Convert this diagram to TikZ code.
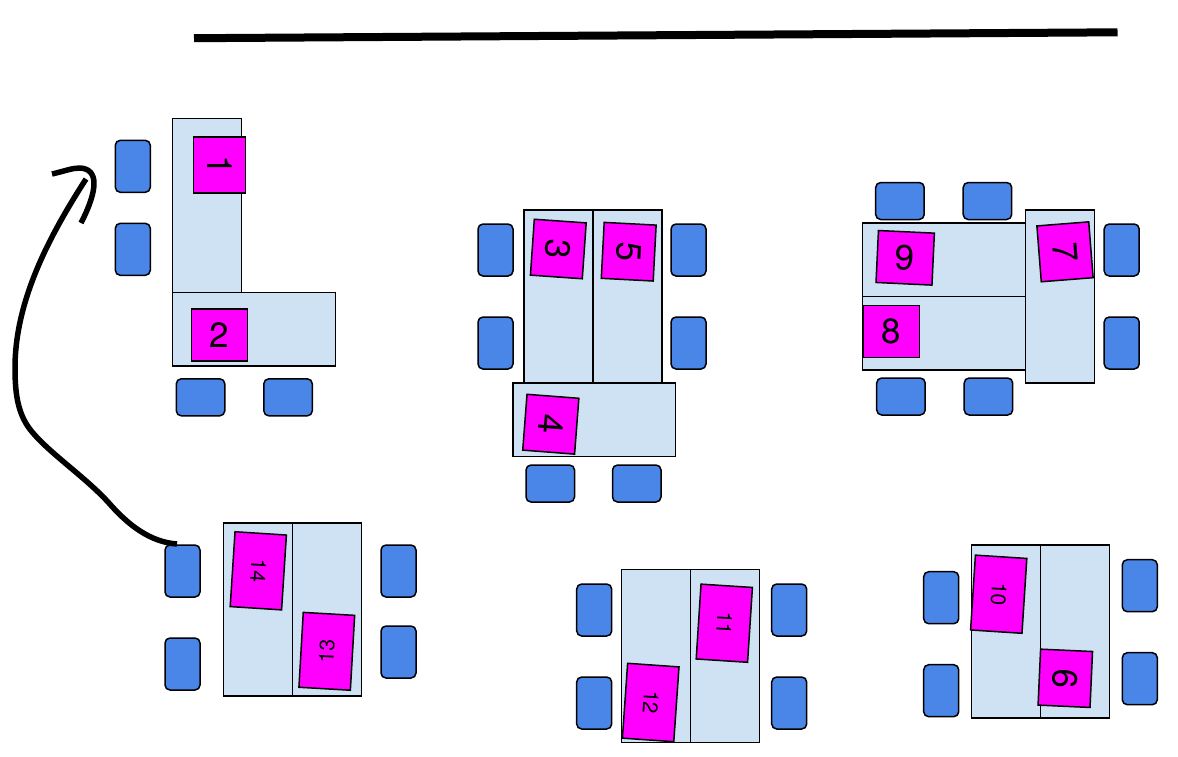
\documentclass[tikz,border=0pt]{standalone}
\usepackage{fontspec}
\setmainfont{TeX Gyre Heros}
\usepackage{xcolor}
\definecolor{deskcolor}{RGB}{207, 226, 243}
\definecolor{chaircolor}{RGB}{74, 134, 232}
\definecolor{papercolor}{RGB}{255, 0, 255}
\usetikzlibrary{positioning}

\begin{document}
\begin{tikzpicture}[
    x=1pt, y=-1pt,
    desk/.style={rectangle, draw, fill=deskcolor, line width=1.5pt, outer sep=0pt, inner sep=0pt},
    deskv/.style={desk, minimum width=69pt, minimum height=173pt},
    deskh/.style={desk, minimum width=163pt, minimum height=73.5pt},
    chair/.style={rectangle, draw, fill=chaircolor, rounded corners=5pt, line width=1.5pt, outer sep=0pt, inner sep=0pt},
    chairv/.style={chair, minimum width=35pt, minimum height=52pt},
    chairh/.style={chair, minimum width=48.5pt, minimum height=37pt},
    paper/.style={rectangle, draw, fill=papercolor, line width=1.5pt, outer sep=0pt, inner sep=0pt,
        minimum width=56pt, minimum height=52pt, font=\fontsize{35}{35}\selectfont},
    longpaper/.style={paper, minimum width=75pt, minimum height=51.5pt, font=\fontsize{21}{21}\selectfont},
    ink/.style={line width=5.5pt, line join=round}
]
    \useasboundingbox (0,0) rectangle (1178,756);

    % Board line
    \coordinate (boardleft) at (194,38.2);
    \coordinate (boardright) at (1117.5,32.3);
    \draw[line width=8pt] (boardleft) -- (boardright);

    % L group, top left
    \node[deskv, minimum height=174pt, anchor=north west] (deskone) at (172.3,118.3) {};
    \node[deskh, below right=0pt and 0pt of deskone.south west] (desktwo) {};
    \node[chairv, below left=22pt and 22pt of deskone.north west] (chairone) {};
    \node[chairv, below=31pt of chairone] (chairtwo) {};
    \node[chairh, below right=13pt and 4pt of desktwo.south west] (chairthree) {};
    \node[chairh, right=39pt of chairthree] (chairfour) {};
    \node[paper, rotate=-90] (paperone) at (219.5,165) {1};
    \node[paper] (papertwo) at (219.5,335) {2};

    % T group, middle
    \node[deskv, anchor=north west] (deskthree) at (524,210) {};
    \node[deskv, right=0pt of deskthree] (deskfive) {};
    \node[deskh, minimum width=162.5pt, below right=0pt and -11pt of deskthree.south west] (deskfour) {};
    \node[chairv, below left=14pt and 11pt of deskthree.north west] (chairfive) {};
    \node[chairv, below=41pt of chairfive] (chairsix) {};
    \node[chairv, below right=14pt and 9pt of deskfive.north east] (chairseven) {};
    \node[chairv, below=41pt of chairseven] (chaireight) {};
    \node[chairh, below right=8.5pt and 13pt of deskfour.south west] (chairnine) {};
    \node[chairh, right=38pt of chairnine] (chairten) {};
    \node[paper, rotate=-94] (paperthree) at (558.3,249) {3};
    \node[paper, rotate=-93] (paperfive) at (628.7,251.7) {5};
    \node[paper, rotate=-94.4] (paperfour) at (550.8,424.2) {4};

    % Side group, top right
    \node[deskv, anchor=north west] (deskseven) at (1025.7,210) {};
    \node[deskh, below left=13pt and 0pt of deskseven.north west] (desknine) {};
    \node[deskh, below=0pt of desknine] (deskeight) {};
    \node[chairh, above right=3.5pt and 13pt of desknine.north west] (chaireleven) {};
    \node[chairh, right=39pt of chaireleven] (chairtwelve) {};
    \node[chairh, below right=8pt and 14pt of deskeight.south west] (chairthirteen) {};
    \node[chairh, right=39pt of chairthirteen] (chairfourteen) {};
    \node[chairv, below right=14pt and 9.5pt of deskseven.north east] (chairfifteen) {};
    \node[chairv, below=41pt of chairfifteen] (chairsixteen) {};
    \node[paper, rotate=-2.7] (papernine) at (905.2,257.8) {9};
    \node[paper] (papereight) at (891.5,331.7) {8};
    \node[paper, rotate=-85.5] (paperseven) at (1065,251.8) {7};

    % Pair of desks, bottom left
    \node[deskv, anchor=north west] (deskfourteen) at (223.7,523) {};
    \node[deskv, right=0pt of deskfourteen] (deskthirteen) {};
    \node[chairv, below left=22pt and 23.7pt of deskfourteen.north west] (chairseventeen) {};
    \node[chairv, below=41pt of chairseventeen] (chaireighteen) {};
    \node[chairv, below right=22pt and 19.3pt of deskthirteen.north east] (chairnineteen) {};
    \node[chairv, below=29pt of chairnineteen] (chairtwenty) {};
    \node[longpaper, rotate=-93.7] (paperfourteen) at (258.3,570.8) {14};
    \node[longpaper, rotate=86.7] (paperthirteen) at (326.8,651.3) {13};

    % Pair of desks, bottom middle
    \node[deskv, anchor=north west] (desktwelve) at (621.3,569.5) {};
    \node[deskv, right=0pt of desktwelve] (deskeleven) {};
    \node[chairv, below left=14.5pt and 9.6pt of desktwelve.north west] (chairtwentyone) {};
    \node[chairv, below=41pt of chairtwentyone] (chairtwentytwo) {};
    \node[chairv, below right=14.5pt and 12.4pt of deskeleven.north east] (chairtwentythree) {};
    \node[chairv, below=41pt of chairtwentythree] (chairtwentyfour) {};
    \node[longpaper, rotate=-93.7] (papereleven) at (724.3,623.2) {11};
    \node[longpaper, rotate=-94] (papertwelve) at (650.7,702.5) {12};

    % Pair of desks, bottom right
    \node[deskv, anchor=north west] (deskten) at (971.7,545) {};
    \node[deskv, right=0pt of deskten] (desksix) {};
    \node[chairv, below left=26.7pt and 13pt of deskten.north west] (chairtwentyfive) {};
    \node[chairv, below=41pt of chairtwentyfive] (chairtwentysix) {};
    \node[chairv, below right=14.7pt and 12.6pt of desksix.north east] (chairtwentyseven) {};
    \node[chairv, below=41pt of chairtwentyseven] (chairtwentyeight) {};
    \node[longpaper, rotate=-93.7] (paperten) at (998.7,594.2) {10};
    \node[paper, rotate=-92.6] (papersix) at (1065.3,678.3) {6};

    % Hand drawn arrow
    \coordinate (penstart) at (177,544);
    \coordinate (pentip) at (86,179);
    \draw[ink] (penstart) .. controls (150,542) and (128,525) .. (108,502)
        .. controls (85,477) and (52,455) .. (33,433)
        .. controls (18,416) and (15,395) .. (15,368)
        .. controls (15,300) and (50,235) .. (pentip);
    \coordinate (headstart) at (52,174);
    \coordinate (headend) at (81,223);
    \draw[ink] (headstart) .. controls (65,171) and (72,168) .. (80,168)
        .. controls (99,169) and (98,190) .. (81,223);
\end{tikzpicture}
\end{document}
